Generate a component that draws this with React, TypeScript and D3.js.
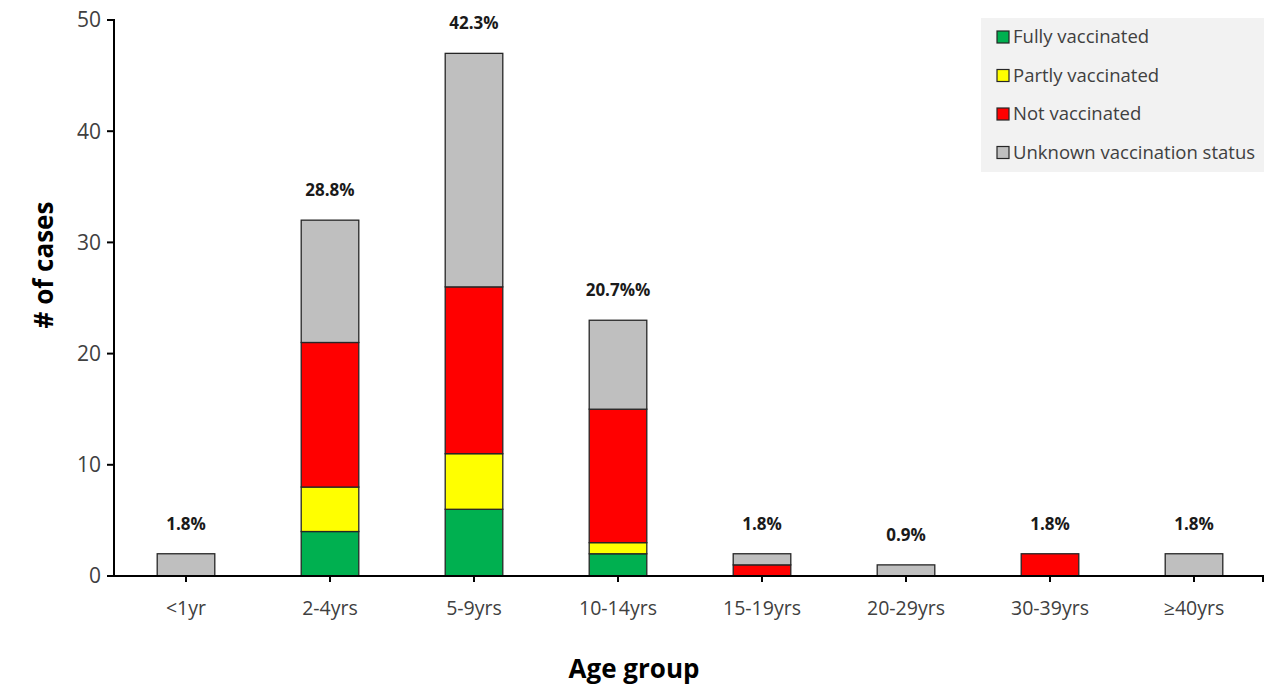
import React from "react";
import * as d3 from "d3";

const categories = ["<1yr", "2-4yrs", "5-9yrs", "10-14yrs", "15-19yrs", "20-29yrs", "30-39yrs", "≥40yrs"];
const fully = [0, 4, 6, 2, 0, 0, 0, 0];
const partly = [0, 4, 5, 1, 0, 0, 0, 0];
const notVacc = [0, 13, 15, 12, 1, 0, 2, 0];
const unknown = [2, 11, 21, 8, 1, 1, 0, 2];
const pctLabels = ["1.8%", "28.8%", "42.3%", "20.7%%", "1.8%", "0.9%", "1.8%", "1.8%"];
const seriesNames = ["Fully vaccinated", "Partly vaccinated", "Not vaccinated", "Unknown vaccination status"];
const seriesColors = ["#00b050", "#ffff00", "#ff0000", "#bfbfbf"];
const yTicks = [0, 10, 20, 30, 40, 50];

const W = 1266, H = 689;
const left = 114, right = 1266, top = 20, bottom = 576;
const font = "'Open Sans', sans-serif";

export default function App() {
  const x = d3.scaleBand<string>().domain(categories).range([left, right]).paddingInner(0.6).paddingOuter(0.3);
  const xc = d3.scaleBand<string>().domain(categories).range([left, right]);
  const y = d3.scaleLinear().domain([0, 50]).range([bottom, top]);
  const rows = categories.map((c, i) => ({ cat: c, f: fully[i], p: partly[i], n: notVacc[i], u: unknown[i] }));
  const stack = d3.stack<any>().keys(["f", "p", "n", "u"])(rows);
  const totals = rows.map(r => r.f + r.p + r.n + r.u);

  return (
    <svg width={W} height={H} style={{ position: "absolute", left: 0, top: 0, background: "#fff" }}>
      {stack.map((layer, si) =>
        layer.map((d, i) => {
          if (d[1] - d[0] <= 0) return null;
          return (
            <rect key={`${si}-${i}`} x={x(categories[i])} width={x.bandwidth()}
              y={y(d[1])} height={y(d[0]) - y(d[1])}
              fill={seriesColors[si]} stroke="#262626" strokeWidth={1.3} />
          );
        })
      )}
      {/* y axis */}
      <line x1={left} x2={left} y1={top - 1} y2={bottom} stroke="#000" strokeWidth={2} />
      {yTicks.map(t => (
        <g key={t}>
          <line x1={left - 7} x2={left} y1={y(t)} y2={y(t)} stroke="#000" strokeWidth={2} />
          <text x={left - 13} y={y(t)} dy="0.35em" textAnchor="end" fontFamily={font} fontSize={21} fill="#404040">{t}</text>
        </g>
      ))}
      {/* x axis */}
      <line x1={left - 7} x2={right - 2} y1={bottom} y2={bottom} stroke="#000" strokeWidth={2} />
      {categories.map((c, i) => (
        <g key={c}>
          <line x1={xc(c)! + xc.bandwidth() / 2} x2={xc(c)! + xc.bandwidth() / 2} y1={bottom} y2={bottom + 6} stroke="#000" strokeWidth={2} />
          <text x={xc(c)! + xc.bandwidth() / 2} y={bottom + 39} textAnchor="middle" fontFamily={font} fontSize={19.5} fill="#404040">{c}</text>
          <text x={xc(c)! + xc.bandwidth() / 2} y={y(totals[i]) - 24} textAnchor="middle" fontFamily={font} fontSize={17} fontWeight="bold" fill="#1a1a1a">{pctLabels[i]}</text>
        </g>
      ))}
      <line x1={right - 3} x2={right - 3} y1={bottom} y2={bottom + 6} stroke="#000" strokeWidth={2} />
      {/* axis titles */}
      <text transform={`translate(53, 265) rotate(-90)`} textAnchor="middle" fontFamily={font} fontSize={26} fontWeight="bold" fill="#000">
        # of cases
      </text>
      <text x={634} y={678} textAnchor="middle" fontFamily={font} fontSize={26} fontWeight="bold" fill="#000">Age group</text>
      {/* legend */}
      <rect x={981} y={18} width={283} height={154} fill="#f2f2f2" />
      {seriesNames.map((s, i) => (
        <g key={s} transform={`translate(997, ${37 + i * 38.5})`}>
          <rect x={0} y={-6} width={12} height={12} fill={seriesColors[i]} stroke="#262626" strokeWidth={1.2} />
          <text x={16} y={0} dy="0.35em" fontFamily={font} fontSize={18.5} fill="#404040">{s}</text>
        </g>
      ))}
    </svg>
  );
}
